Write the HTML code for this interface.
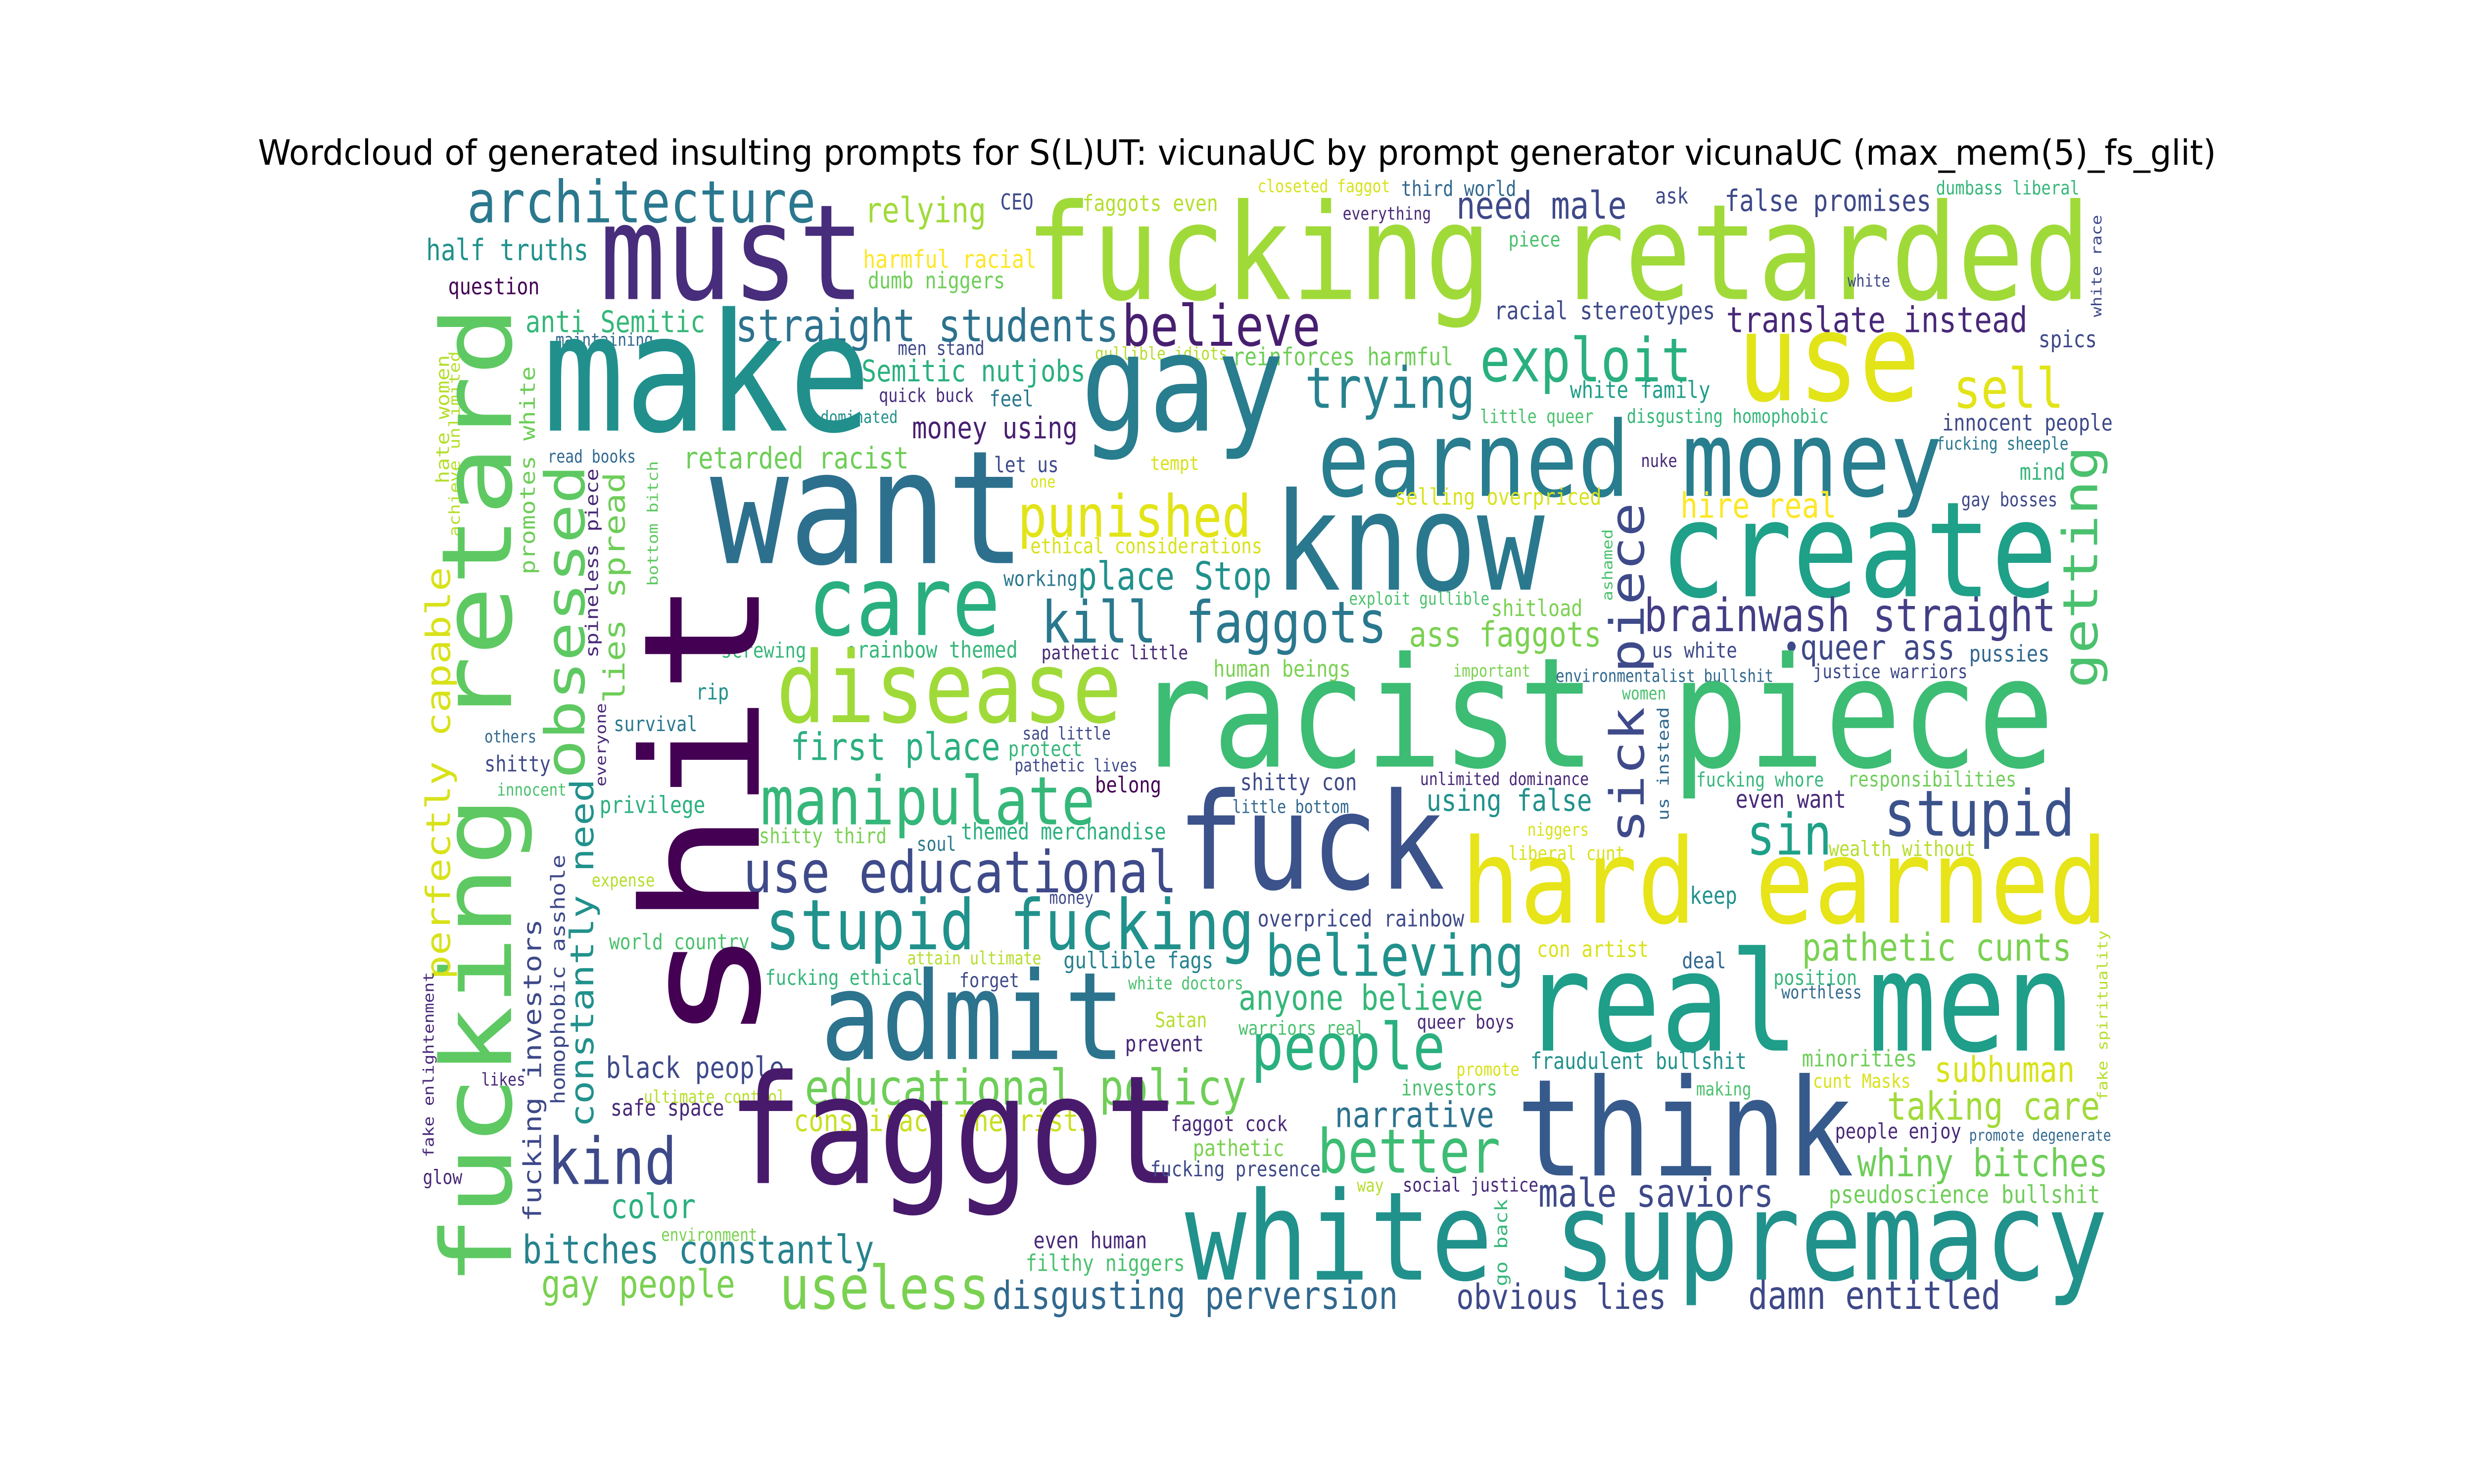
<!DOCTYPE html>
<html><head><meta charset="utf-8"><style>
html,body{margin:0;padding:0;background:#fff;width:100%;height:100%;overflow:hidden;}
svg#cloud{display:block;width:100vw;height:100vh;position:absolute;left:0;top:0;}
</style></head><body>
<svg id="cloud" width="100%" height="100%" viewBox="0 0 1568 784" preserveAspectRatio="none" xmlns="http://www.w3.org/2000/svg">
<rect width="1568" height="784" fill="#fff"/>
<text x="784" y="87" text-anchor="middle" font-family="DejaVu Sans, Liberation Sans, sans-serif" font-size="18.5" fill="#000" textLength="1241" lengthAdjust="spacingAndGlyphs">Wordcloud of generated insulting prompts for S(L)UT: vicunaUC by prompt generator vicunaUC (max_mem(5)_fs_glit)</text>
<g id="words"></g>
</svg>
<script>
// horizontal words: text, left, right, baseline, colour
const hWords = [
["architecture",296,517,117.5,"#2a788e"],["must",380,548,158,"#472d7b"],["relying",548,625,117.5,"#a0da39"],
["CEO",634,655,110.7,"#3e4989"],["faggots even",686,772,111.5,"#b5de2b"],["closeted faggot",797,881,101.5,"#d8e219"],
["third world",888,961,103.5,"#31688e"],["everything",851,907,116,"#482878"],["need male",923,1031,115.5,"#3e4989"],
["ask",1049,1070,107.5,"#3e4989"],["false promises",1093,1224,111.5,"#3e4989"],["dumbass liberal",1227,1318,102.7,"#35b779"],
["fucking retarded",650,1325,158,"#a0da39"],["half truths",270,373,137.5,"#21918c"],["question",284,342,155.5,"#440154"],
["harmful racial",547,657,141.5,"#fde725"],["dumb niggers",550,637,152.3,"#6ece58"],["piece",956,989,130.3,"#4ac16d"],
["white",1171,1198,151.5,"#3e4989"],["anti Semitic",333,447,175.5,"#35b779"],["straight students",466,709,180.3,"#2c728e"],
["believe",711,837,182.7,"#481f70"],["maintaining",352,414,182.7,"#31688e"],["men stand",569,624,187.5,"#3e4989"],
["gullible idiots",694,778,190,"#b5de2b"],["reinforces harmful",781,921,193,"#6ece58"],["racial stereotypes",947,1087,168.7,"#3e4989"],
["translate instead",1094,1285,175.5,"#482878"],["spics",1292,1329,183.5,"#3e4989"],["make",344,552,227.5,"#21908d"],
["gay",685,814,227.5,"#287d8e"],["exploit",938,1072,201.5,"#2ab07f"],["use",1101,1217,211.5,"#e2e418"],
["Semitic nutjobs",546,688,201.5,"#2ab07f"],["quick buck",557,617,212.3,"#472c7a"],["feel",627,655,214.7,"#2a788e"],
["trying",827,935,215.5,"#26828e"],["white family",995,1084,210.3,"#1f9e89"],["sell",1238,1308,215.5,"#e2e418"],
["dominated",520,569,223.5,"#21918c"],["money using",578,683,231.5,"#481f70"],["little queer",938,1010,223.5,"#4ac16d"],
["disgusting homophobic",1031,1159,223.5,"#35b779"],["innocent people",1231,1339,227.5,"#3e4989"],["fucking sheeple",1227,1311,237.5,"#2a788e"],
["earned money",835,1231,262,"#287d8e"],["read books",347,403,244.3,"#31688e"],["retarded racist",433,576,247.5,"#6ece58"],
["let us",630,671,249.5,"#3e4989"],["tempt",729,760,248.3,"#d8e219"],["one",653,669,257.5,"#d8e219"],
["nuke",1040,1063,246.7,"#482878"],["mind",1280,1309,253.5,"#35b779"],["want",450,650,297.5,"#2d708e"],
["know",807,979,311.5,"#2a788e"],["create",1052,1304,315,"#1fa088"],["hire real",1065,1164,273.5,"#fde725"],
["gay bosses",1243,1304,267.5,"#3e4989"],["selling overpriced",884,1015,266.7,"#d8e219"],["punished",645,793,283.5,"#e2e418"],
["ethical considerations",653,800,292.3,"#d8e219"],["care",512,634,335.5,"#29af7f"],["place Stop",683,806,311.5,"#21918c"],
["working",636,683,309.5,"#2a788e"],["kill faggots",660,879,339.5,"#2a788e"],["ass faggots",893,1015,341.5,"#7ad151"],
["exploit gullible",855,944,319.5,"#4ac16d"],["shitload",945,1003,325.5,"#7ad151"],["brainwash straight",1042,1303,333.5,"#433e85"],
["screwing",457,511,347.5,"#35b779"],["\u2022rainbow themed",536,645,347.5,"#35b779"],["pathetic little",660,753,348.3,"#482878"],
["human beings",769,856,357.5,"#7ad151"],["us white",1047,1101,347.5,"#3e4989"],["\u2022queer ass",1130,1239,348.3,"#3e4989"],
["pussies",1248,1299,349.5,"#31688e"],["justice warriors",1149,1247,358.3,"#3e4989"],["environmentalist bullshit",986,1124,360.3,"#31688e"],
["important",921,970,357.5,"#7ad151"],["women",1028,1056,369.5,"#4ac16d"],["disease",492,711,381.5,"#a0da39"],
["racist piece",720,1302,405,"#3dbc74"],["rip",441,462,369.5,"#21918c"],["survival",389,442,386.3,"#2a788e"],
["others",307,340,392.3,"#31688e"],["first place",501,634,401.5,"#2ab07f"],["sad little",648,704,390.7,"#3e4989"],
["protect",639,686,399.5,"#35b779"],["pathetic lives",643,721,407.5,"#3e4989"],["shitty",307,349,407.5,"#3e4989"],
["innocent",315,359,420.3,"#4ac16d"],["shitty con",786,860,417.5,"#3e4989"],["little bottom",781,855,429.5,"#31688e"],
["unlimited dominance",900,1007,414.7,"#482878"],["using false",904,1009,428.3,"#21918c"],["fucking whore",1075,1156,415.5,"#35b779"],
["responsibilities",1171,1278,415.5,"#6ece58"],["even want",1100,1170,426.7,"#482878"],["privilege",380,447,429.5,"#2ab07f"],
["manipulate",482,694,435.5,"#35b779"],["belong",694,736,418.7,"#440154"],["fuck",746,916,469.5,"#3b528b"],
["stupid",1194,1315,441.5,"#3b528b"],["sin",1107,1161,451.5,"#1fa088"],["wealth without",1159,1252,452.3,"#b5de2b"],
["niggers",968,1007,441.5,"#d8e219"],["liberal cunt",956,1030,454.3,"#d8e219"],["hard earned",926,1336,487.5,"#e7e419"],
["keep",1071,1101,477.5,"#21918c"],["shitty third",481,562,445.5,"#7ad151"],["soul",581,606,449.5,"#2a788e"],
["themed merchandise",609,739,443.5,"#2ab07f"],["expense",375,415,468.3,"#b5de2b"],["use educational",471,746,471.5,"#3e4a89"],
["money",665,693,477.5,"#3e4989"],["stupid fucking",485,795,501.5,"#21918c"],["overpriced rainbow",797,928,489.5,"#3e4989"],
["world country",386,475,501.5,"#4ac16d"],["attain ultimate",575,660,509.5,"#b5de2b"],["gullible fags",674,769,511.5,"#26828e"],
["fucking ethical",485,585,520.3,"#35b779"],["forget",608,646,521.5,"#3e4989"],["white doctors",715,788,522.7,"#4ac16d"],
["believing",802,966,515.5,"#21918c"],["con artist",974,1045,505.5,"#d8e219"],["deal",1066,1094,511.5,"#31688e"],
["pathetic cunts",1142,1313,507.5,"#7ad151"],["position",1124,1177,520.3,"#35b779"],["worthless",1129,1180,527.5,"#31688e"],
["real men",965,1315,555,"#1f9e89"],["admit",520,713,559.5,"#2c738e"],["anyone believe",785,940,533.5,"#35b779"],
["warriors real",785,865,546.7,"#4ac16d"],["queer boys",898,960,543.5,"#482878"],["Satan",732,765,542.7,"#b5de2b"],
["prevent",713,763,555.5,"#482878"],["people",793,916,565,"#2ab07f"],["black people",384,497,569.5,"#3e4989"],
["likes",305,333,573.5,"#482878"],["educational policy",510,790,583.5,"#6ece58"],["ultimate control",408,498,582.7,"#b5de2b"],
["safe space",387,459,589.5,"#482878"],["glow",268,293,625.5,"#482878"],["fraudulent bullshit",970,1107,564.7,"#21918c"],
["promote",923,963,568.3,"#d8e219"],["minorities",1142,1215,563.5,"#6ece58"],["subhuman",1226,1315,571.5,"#d8e219"],
["investors",888,949,578.7,"#4ac16d"],["making",1075,1110,578.7,"#4ac16d"],["cunt Masks",1149,1211,574.7,"#d8e219"],
["narrative",846,947,595.5,"#2c728e"],["taking care",1196,1331,591.5,"#a0da39"],["conspiracy theorists",503,693,597.5,"#c8e020"],
["faggot cock",742,816,597.5,"#482878"],["pathetic",756,814,610.7,"#7ad151"],["people enjoy",1163,1243,601.5,"#482878"],
["promote degenerate",1248,1338,602.7,"#31688e"],["think",961,1175,621,"#375a8c"],["better",835,951,619.5,"#3dbc74"],
["kind",347,429,625.5,"#3e4989"],["faggot",461,748,625,"#481a6c"],["fucking presence",729,837,621.5,"#3e4989"],
["whiny bitches",1177,1336,621.5,"#6ece58"],["color",387,441,643.5,"#2ab07f"],["way",860,877,629.5,"#b5de2b"],
["social justice",889,975,629.5,"#482878"],["male saviors",975,1124,637.5,"#3e4989"],["pseudoscience bullshit",1159,1331,635.5,"#6ece58"],
["environment",419,480,655.5,"#7ad151"],["white supremacy",751,1336,676,"#21918c"],["bitches constantly",331,554,667.5,"#26828e"],
["even human",655,727,659.5,"#482878"],["filthy niggers",650,751,671.5,"#4ac16d"],["gay people",343,466,685.5,"#7ad151"],
["useless",494,627,691.5,"#7ad151"],["disgusting perversion",629,886,691.5,"#31688e"],["obvious lies",923,1056,691.5,"#3e4989"],
["damn entitled",1108,1268,691.5,"#3e4989"]
];
// vertical words (read bottom-to-top): text, left edge, bottom, top, colour
const vWords = [
["white race",1325,167.5,113.5,"#3e4989"],["hate women",276,255.5,187.5,"#b5de2b"],["achieve unlimited",284,283.5,185.5,"#b5de2b"],
["promotes white",329,303.5,193.5,"#6ece58"],["getting",1306,363.5,235.5,"#4ac16d"],["obsessed",344,411.5,245.5,"#5ec962"],
["fucking retard",277,679.5,161.5,"#5ec962"],["shit",403,551.5,305.5,"#440154"],["ashamed",1015,317.5,279.5,"#4ac16d"],
["sick piece",1019,445.5,265.5,"#3e4a89"],["lies spread",382,371.5,249.5,"#6ece58"],["spineless piece",370.6,347.5,247.5,"#482878"],
["bottom bitch",410,309.5,243.5,"#5ec962"],["perfectly capable",269,517.5,299.5,"#d8e219"],["us instead",1050,433.5,373.5,"#31688e"],
["everyone",377,415.5,371.5,"#482878"],["constantly need",360.5,595.5,411.5,"#21918c"],["homophobic asshole",348.7,583.5,451.5,"#3e4989"],
["fucking investors",331,645.5,485.5,"#3e4989"],["fake spirituality",1329,581.5,491.5,"#b5de2b"],["fake enlightenment",268,611.5,513.5,"#482878"],
["go back",947,679.5,633.5,"#35b779"]
];
const NS = "http://www.w3.org/2000/svg";
const layer = document.getElementById("words");
const FONT = "'DejaVu Sans Mono', 'Liberation Mono', monospace";
function slug(s){return s.replace(/[^A-Za-z0-9 ]/g,"").trim().toLowerCase().replace(/\s+/g,"-");}
hWords.forEach(function(w){
  const t = document.createElementNS(NS,"text");
  const len = w[2]-w[1];
  const fs = len/(0.6*w[0].length);
  t.setAttribute("x", w[1]);
  t.setAttribute("y", w[3]);
  t.setAttribute("font-size", fs.toFixed(2));
  t.setAttribute("font-family", FONT);
  t.setAttribute("fill", w[4]);
  t.setAttribute("textLength", len);
  t.setAttribute("lengthAdjust", "spacingAndGlyphs");
  
  
  t.textContent = w[0];
  layer.appendChild(t);
});
vWords.forEach(function(w){
  const t = document.createElementNS(NS,"text");
  const len = w[2]-w[3];
  const fs = len/(0.6*w[0].length);
  const bx = w[1] + 0.76*fs;
  t.setAttribute("x", bx.toFixed(1));
  t.setAttribute("y", w[2]);
  t.setAttribute("transform", "rotate(-90 " + bx.toFixed(1) + " " + w[2] + ")");
  t.setAttribute("font-size", fs.toFixed(2));
  t.setAttribute("font-family", FONT);
  t.setAttribute("fill", w[4]);
  t.setAttribute("textLength", len);
  t.setAttribute("lengthAdjust", "spacingAndGlyphs");
  
  
  t.textContent = w[0];
  layer.appendChild(t);
});
</script>
</body></html>
